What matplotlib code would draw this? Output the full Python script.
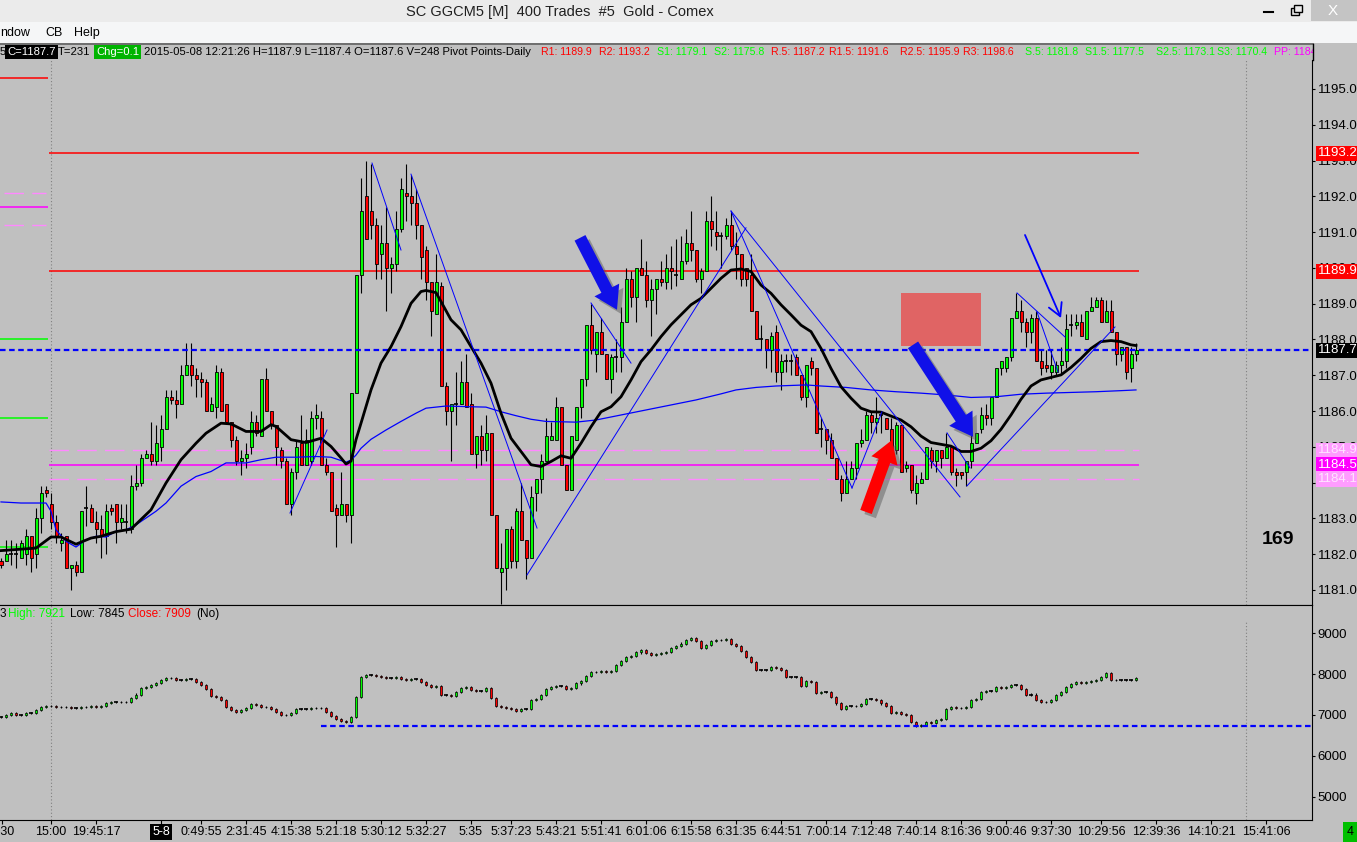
import matplotlib
matplotlib.use("Agg")
import matplotlib.pyplot as plt
import matplotlib.patheffects as pe
from matplotlib.patches import Rectangle
from matplotlib.lines import Line2D
import numpy as np

W, H = 1357, 842
BG = "#c0c0c0"
plt.rcParams["font.family"] = ["Liberation Sans", "DejaVu Sans"]

# ---------------- price candles (400 trade bars) ----------------
candle_open = [
    1181.8, 1181.8, 1182.0, 1182.0, 1181.9, 1182.0, 1182.5, 1182.0, 1183.0, 1183.8,
    1183.4, 1182.9, 1182.3, 1182.5, 1181.6, 1181.7, 1181.5, 1183.3, 1183.3, 1182.9,
    1182.7, 1182.5, 1183.3, 1183.4, 1182.9, 1182.9, 1182.7, 1183.9, 1184.0, 1184.7,
    1184.8, 1184.6, 1185.0, 1185.5, 1186.4, 1186.3, 1186.2, 1187.0, 1187.3, 1187.0,
    1186.9, 1186.8, 1186.0, 1186.1, 1187.1, 1186.2, 1185.7, 1185.2, 1184.6, 1184.7,
    1185.0, 1185.7, 1185.3, 1186.9, 1186.0, 1185.6, 1184.9, 1184.6, 1183.4, 1184.3,
    1185.1, 1184.5, 1184.6, 1185.8, 1185.8, 1184.5, 1184.3, 1183.3, 1183.1, 1183.4,
    1183.1, 1186.5, 1189.8, 1192.0, 1191.6, 1191.2, 1190.4, 1190.7, 1190.0, 1190.1,
    1191.1, 1192.1, 1192.0, 1191.8, 1191.2, 1190.5, 1189.6, 1188.7, 1189.5, 1186.7,
    1186.0, 1186.2, 1186.2, 1186.8, 1186.2, 1184.8, 1185.3, 1184.9, 1185.4, 1183.1,
    1181.5, 1181.6, 1182.7, 1181.8, 1183.2, 1182.4, 1181.9, 1183.7, 1184.1, 1184.6,
    1185.2, 1185.2, 1186.1, 1184.5, 1183.8, 1185.2, 1186.1, 1186.9, 1188.4, 1187.6,
    1188.2, 1187.6, 1186.9, 1187.5, 1187.5, 1188.5, 1189.7, 1189.2, 1190.0, 1189.8,
    1189.1, 1189.4, 1189.7, 1189.6, 1190.0, 1189.8, 1189.7, 1190.2, 1190.7, 1190.5,
    1189.7, 1189.9, 1191.3, 1191.0, 1190.9, 1190.9, 1191.2, 1190.6, 1190.4, 1190.0,
    1189.8, 1188.8, 1188.0, 1188.0, 1187.7, 1188.2, 1187.1, 1187.4, 1187.4, 1187.5,
    1187.0, 1186.4, 1187.4, 1187.2, 1185.5, 1185.5, 1185.2, 1184.7, 1184.1, 1183.7,
    1184.1, 1184.4, 1185.1, 1185.2, 1185.9, 1185.7, 1185.9, 1185.8, 1185.5, 1184.9,
    1185.6, 1184.4, 1184.5, 1183.7, 1184.0, 1184.1, 1184.9, 1184.6, 1184.9, 1184.7,
    1185.0, 1184.3, 1184.3, 1184.3, 1184.6, 1185.1, 1185.5, 1185.9, 1185.8, 1186.4,
    1187.2, 1187.2, 1187.5, 1188.6, 1188.8, 1188.5, 1188.2, 1188.6, 1187.4, 1187.3,
    1187.1, 1187.1, 1187.3, 1187.4, 1188.4, 1188.4, 1188.5, 1188.0, 1188.8, 1188.9,
    1189.1, 1188.5, 1188.8, 1188.2, 1187.6, 1187.8, 1187.2, 1187.6,
]
candle_high = [
    1181.9, 1182.4, 1182.4, 1182.3, 1182.4, 1182.7, 1182.5, 1183.3, 1183.9, 1183.9,
    1183.7, 1183.1, 1182.6, 1182.5, 1181.7, 1181.8, 1183.2, 1183.9, 1183.4, 1183.2,
    1183.1, 1183.4, 1183.4, 1183.4, 1183.4, 1183.4, 1184.2, 1184.5, 1184.8, 1184.9,
    1185.7, 1185.6, 1185.9, 1186.6, 1186.6, 1186.6, 1187.3, 1187.9, 1187.9, 1187.2,
    1187.1, 1186.9, 1186.4, 1187.3, 1187.2, 1186.2, 1185.7, 1185.3, 1184.9, 1185.1,
    1186.0, 1185.9, 1186.9, 1187.2, 1186.0, 1185.6, 1185.0, 1184.7, 1184.4, 1185.2,
    1185.9, 1185.5, 1186.0, 1186.2, 1186.0, 1184.7, 1184.3, 1183.4, 1184.3, 1183.4,
    1186.5, 1189.8, 1192.5, 1193.0, 1192.9, 1191.4, 1191.2, 1191.7, 1190.3, 1191.6,
    1192.5, 1192.9, 1192.6, 1192.2, 1191.2, 1190.6, 1189.6, 1190.4, 1189.6, 1186.8,
    1186.2, 1187.1, 1187.4, 1187.6, 1186.5, 1185.3, 1185.6, 1185.9, 1185.4, 1183.1,
    1182.3, 1182.7, 1182.8, 1183.3, 1184.0, 1182.4, 1183.9, 1184.1, 1184.8, 1185.8,
    1185.7, 1186.4, 1186.1, 1184.5, 1185.3, 1186.1, 1186.9, 1188.4, 1189.0, 1188.2,
    1188.6, 1187.6, 1187.6, 1188.0, 1188.9, 1190.0, 1189.9, 1190.0, 1190.8, 1190.2,
    1189.7, 1189.7, 1190.2, 1190.4, 1190.6, 1190.8, 1190.9, 1191.1, 1191.6, 1190.5,
    1190.0, 1191.6, 1192.0, 1191.6, 1191.0, 1191.4, 1191.6, 1191.0, 1190.4, 1190.0,
    1190.4, 1188.8, 1188.4, 1188.0, 1188.2, 1188.4, 1187.6, 1187.6, 1187.6, 1187.6,
    1187.0, 1187.3, 1187.5, 1187.2, 1185.8, 1185.5, 1185.4, 1184.7, 1184.2, 1184.6,
    1184.6, 1185.1, 1185.5, 1186.0, 1186.0, 1186.4, 1186.0, 1185.8, 1185.8, 1185.7,
    1185.6, 1184.6, 1184.5, 1184.2, 1184.3, 1185.0, 1185.0, 1184.9, 1184.9, 1185.4,
    1185.0, 1184.4, 1184.3, 1184.6, 1185.6, 1185.4, 1186.1, 1186.2, 1186.4, 1187.2,
    1187.4, 1187.5, 1188.6, 1189.3, 1189.1, 1188.6, 1188.7, 1188.8, 1187.7, 1187.7,
    1187.7, 1187.4, 1187.8, 1188.7, 1188.7, 1188.7, 1188.7, 1188.8, 1189.2, 1189.2,
    1189.2, 1189.1, 1189.1, 1188.2, 1187.8, 1187.8, 1187.8, 1187.9,
]
candle_low = [
    1181.6, 1181.8, 1181.7, 1181.6, 1181.9, 1181.7, 1181.5, 1181.6, 1182.6, 1183.6,
    1182.7, 1182.3, 1182.1, 1181.6, 1181.0, 1181.4, 1181.5, 1182.8, 1182.9, 1182.3,
    1181.9, 1182.0, 1183.1, 1182.3, 1182.7, 1182.6, 1182.6, 1183.8, 1183.9, 1184.7,
    1184.5, 1184.5, 1184.6, 1185.5, 1186.2, 1185.8, 1186.2, 1187.0, 1186.7, 1186.4,
    1186.4, 1186.0, 1186.0, 1185.8, 1186.0, 1185.7, 1185.0, 1184.5, 1184.2, 1184.4,
    1184.8, 1185.3, 1185.3, 1186.0, 1185.5, 1184.5, 1184.4, 1183.4, 1183.1, 1184.1,
    1184.5, 1184.5, 1184.5, 1185.5, 1184.5, 1184.2, 1183.2, 1182.2, 1183.1, 1182.9,
    1182.3, 1186.5, 1189.3, 1190.8, 1190.8, 1189.7, 1189.7, 1188.8, 1189.3, 1189.9,
    1191.0, 1191.3, 1191.2, 1190.8, 1189.7, 1189.1, 1188.1, 1188.7, 1186.7, 1185.6,
    1184.6, 1185.6, 1186.2, 1186.1, 1184.8, 1184.4, 1184.5, 1184.6, 1183.1, 1181.6,
    1180.6, 1181.0, 1181.6, 1181.6, 1182.4, 1181.3, 1181.9, 1183.2, 1183.7, 1184.6,
    1185.2, 1185.2, 1184.5, 1183.8, 1183.8, 1185.2, 1185.8, 1186.7, 1187.6, 1187.1,
    1187.6, 1186.9, 1186.5, 1187.1, 1187.1, 1188.5, 1188.9, 1188.5, 1189.8, 1188.9,
    1188.1, 1188.7, 1189.5, 1189.4, 1189.4, 1189.5, 1189.7, 1190.1, 1190.2, 1189.6,
    1189.3, 1189.9, 1190.6, 1190.5, 1190.0, 1190.8, 1190.5, 1189.7, 1189.5, 1189.5,
    1188.8, 1188.0, 1187.7, 1187.2, 1187.1, 1186.8, 1186.6, 1187.1, 1187.0, 1187.0,
    1186.3, 1186.1, 1187.0, 1185.4, 1185.0, 1184.8, 1184.7, 1184.1, 1183.5, 1183.7,
    1184.1, 1184.1, 1185.0, 1185.2, 1185.4, 1185.4, 1185.4, 1185.5, 1184.9, 1184.8,
    1184.3, 1184.3, 1183.7, 1183.4, 1184.0, 1184.1, 1184.4, 1184.3, 1184.4, 1184.7,
    1184.2, 1183.9, 1184.1, 1183.9, 1184.4, 1185.1, 1185.4, 1185.6, 1185.6, 1186.4,
    1187.0, 1187.1, 1187.4, 1188.6, 1188.2, 1187.8, 1187.9, 1187.4, 1187.0, 1187.1,
    1186.9, 1187.0, 1187.0, 1187.2, 1188.1, 1188.3, 1188.1, 1188.0, 1188.8, 1188.9,
    1188.5, 1188.5, 1188.2, 1187.3, 1187.4, 1186.9, 1186.8, 1187.4,
]
candle_close = [
    1181.7, 1182.0, 1182.0, 1182.0, 1182.3, 1182.5, 1181.9, 1183.0, 1183.7, 1183.7,
    1182.9, 1182.5, 1182.4, 1181.6, 1181.7, 1181.5, 1183.2, 1183.3, 1182.9, 1182.7,
    1182.5, 1183.2, 1183.2, 1182.9, 1183.0, 1182.9, 1183.9, 1184.0, 1184.7, 1184.8,
    1184.6, 1185.1, 1185.5, 1186.4, 1186.3, 1186.2, 1187.0, 1187.3, 1187.0, 1186.9,
    1186.8, 1186.0, 1186.2, 1187.1, 1186.0, 1185.7, 1185.2, 1184.6, 1184.7, 1184.8,
    1185.7, 1185.4, 1186.9, 1186.0, 1185.6, 1185.0, 1184.6, 1183.4, 1184.3, 1185.0,
    1184.5, 1185.2, 1185.8, 1185.9, 1184.5, 1184.3, 1183.2, 1183.1, 1183.4, 1183.1,
    1186.5, 1189.8, 1191.6, 1190.8, 1191.2, 1190.1, 1190.7, 1190.0, 1190.1, 1191.1,
    1192.2, 1192.0, 1191.8, 1191.2, 1190.3, 1189.6, 1188.8, 1189.6, 1186.7, 1186.0,
    1186.2, 1186.2, 1186.8, 1186.1, 1184.8, 1185.3, 1184.9, 1185.4, 1183.1, 1181.6,
    1181.6, 1182.7, 1181.8, 1183.2, 1182.4, 1181.9, 1183.6, 1184.1, 1184.6, 1185.3,
    1185.3, 1186.1, 1184.5, 1183.8, 1185.3, 1186.1, 1186.9, 1188.4, 1187.7, 1188.2,
    1187.6, 1186.9, 1187.5, 1187.5, 1188.5, 1189.7, 1189.2, 1190.0, 1189.8, 1189.1,
    1189.4, 1189.7, 1189.6, 1190.0, 1189.9, 1189.8, 1190.2, 1190.7, 1190.5, 1189.7,
    1189.9, 1191.3, 1191.1, 1190.9, 1190.9, 1191.2, 1190.6, 1190.4, 1189.7, 1189.7,
    1188.8, 1188.0, 1188.0, 1187.7, 1188.1, 1187.1, 1187.4, 1187.4, 1187.4, 1187.0,
    1186.4, 1187.3, 1187.2, 1185.4, 1185.5, 1185.2, 1184.7, 1184.1, 1183.7, 1184.1,
    1184.4, 1185.1, 1185.2, 1185.9, 1185.7, 1185.8, 1185.9, 1185.5, 1184.9, 1185.6,
    1184.3, 1184.5, 1183.8, 1184.0, 1184.1, 1185.0, 1184.6, 1184.9, 1184.7, 1185.0,
    1184.3, 1184.2, 1184.2, 1184.6, 1185.1, 1185.4, 1185.9, 1185.8, 1186.4, 1187.2,
    1187.4, 1187.5, 1188.6, 1188.8, 1188.5, 1188.2, 1188.6, 1187.4, 1187.2, 1187.2,
    1187.3, 1187.3, 1187.4, 1188.3, 1188.4, 1188.5, 1188.1, 1188.8, 1188.9, 1189.1,
    1188.5, 1188.8, 1188.2, 1187.6, 1187.8, 1187.1, 1187.6, 1187.7,
]

# moving averages (bar index, value)
fast_ma_idx = [1, 8, 11, 13, 16, 19, 21, 24, 27, 31, 34, 37, 40, 42, 45, 47, 50, 53, 55, 56,
               59, 62, 65, 67, 69, 70, 71, 72, 73, 75, 77, 79, 81, 83, 85, 86, 88, 89, 91, 93,
               95, 97, 99, 101, 103, 105, 107, 109, 111, 113, 115, 117, 119, 121, 123, 125, 127,
               129, 131, 133, 135, 137, 139, 141, 143, 145, 147, 149, 151, 153, 155, 157, 159,
               161, 163, 165, 167, 169, 171, 173, 175, 177, 179, 181, 183, 185, 187, 189, 191,
               193, 195, 197, 199, 201, 203, 205, 207, 209, 211, 213, 215, 217, 219, 221, 223,
               225, 227, 228]
fast_ma_val = [1182.10, 1182.17, 1182.48, 1182.48, 1182.28, 1182.45, 1182.50, 1182.63, 1182.70,
               1183.24, 1183.99, 1184.64, 1185.10, 1185.38, 1185.66, 1185.64, 1185.43, 1185.43,
               1185.62, 1185.57, 1185.20, 1185.12, 1185.24, 1185.01, 1184.69, 1184.52, 1184.60,
               1185.20, 1185.66, 1186.59, 1187.34, 1187.80, 1188.36, 1189.01, 1189.34, 1189.37,
               1189.31, 1189.06, 1188.55, 1188.27, 1187.80, 1187.34, 1186.78, 1185.94, 1185.24,
               1184.87, 1184.50, 1184.45, 1184.59, 1184.75, 1184.68, 1185.10, 1185.56, 1185.98,
               1186.12, 1186.40, 1186.87, 1187.38, 1187.71, 1188.08, 1188.41, 1188.69, 1188.97,
               1189.15, 1189.43, 1189.71, 1189.94, 1189.97, 1189.90, 1189.52, 1189.29, 1188.97,
               1188.69, 1188.40, 1188.22, 1187.75, 1187.19, 1186.68, 1186.36, 1186.08, 1185.98,
               1185.97, 1185.86, 1185.75, 1185.56, 1185.30, 1185.12, 1185.07, 1185.02, 1184.87,
               1184.87, 1184.96, 1185.17, 1185.49, 1185.89, 1186.33, 1186.70, 1186.87, 1186.94,
               1187.01, 1187.22, 1187.47, 1187.75, 1187.94, 1187.97, 1187.94, 1187.85, 1187.83]
slow_ma_idx = [1, 5, 10, 11, 12, 14, 16, 18, 20, 22, 24, 26, 28, 30, 32, 34, 37, 40, 43, 46,
               50, 53, 56, 60, 64, 67, 70, 71, 72, 73, 75, 78, 81, 84, 86, 90, 95, 98, 101, 104,
               107, 110, 116, 120, 125, 130, 135, 140, 145, 148, 152, 156, 162, 165, 170, 175,
               180, 185, 190, 195, 200, 205, 210, 215, 220, 225, 228]
slow_ma_val = [1183.46, 1183.43, 1183.43, 1183.20, 1182.68, 1182.36, 1182.20, 1182.40, 1182.50,
               1182.48, 1182.64, 1182.68, 1182.82, 1183.01, 1183.20, 1183.43, 1183.90, 1184.17,
               1184.31, 1184.55, 1184.55, 1184.64, 1184.71, 1184.71, 1184.73, 1184.71, 1184.57,
               1184.63, 1184.77, 1184.96, 1185.21, 1185.47, 1185.71, 1185.94, 1186.08, 1186.14,
               1186.12, 1186.11, 1185.98, 1185.87, 1185.77, 1185.71, 1185.69, 1185.75, 1185.89,
               1186.03, 1186.17, 1186.31, 1186.48, 1186.59, 1186.66, 1186.70, 1186.73, 1186.70,
               1186.66, 1186.59, 1186.54, 1186.50, 1186.45, 1186.38, 1186.40, 1186.47, 1186.50,
               1186.52, 1186.54, 1186.57, 1186.59]

# daily pivots (today) and yesterday's leftovers
pivot_r = [1193.2, 1189.9]
pivot_pp = 1184.5
pivot_mid = [1184.9, 1184.1]
old_r = [1195.3]
old_pp = 1191.7
old_mid = [1192.1, 1191.2]
old_s = [1188.0, 1185.8, 1182.2]
last_price = 1187.7

# hand-drawn trend lines: (bar, price) -> (bar, price)
trend_lines = [
    ((58.8, 1183.15), (66.2, 1185.47)),
    ((75.2, 1192.93), (81.0, 1190.50)),
    ((83.0, 1192.62), (108.2, 1182.73)),
    ((106.2, 1181.42), (150.0, 1191.12)),
    ((119.0, 1189.02), (127.0, 1187.34)),
    ((147.0, 1191.59), (192.8, 1183.60)),
    ((147.0, 1191.59), (171.2, 1183.85)),
    ((171.2, 1183.85), (177.2, 1185.98)),
    ((190.2, 1185.39), (194.8, 1184.41)),
    ((194.2, 1183.91), (223.8, 1188.35)),
    ((204.2, 1189.30), (213.8, 1188.07)),
    ((208.2, 1188.77), (212.4, 1187.09)),
]

# lower study (close per bar)
lower_close = [
    6960, 7000, 7040, 7000, 7000, 7040, 7040, 7120, 7190, 7220,
    7230, 7200, 7190, 7200, 7160, 7160, 7190, 7200, 7220, 7200,
    7220, 7300, 7320, 7320, 7310, 7320, 7410, 7500, 7650, 7680,
    7730, 7790, 7860, 7910, 7900, 7860, 7860, 7880, 7880, 7810,
    7730, 7630, 7470, 7450, 7370, 7190, 7120, 7080, 7120, 7160,
    7260, 7240, 7200, 7190, 7140, 7080, 7000, 6990, 7040, 7140,
    7140, 7140, 7160, 7180, 7160, 7080, 6980, 6890, 6860, 6830,
    6960, 7430, 7920, 7980, 7980, 7960, 7940, 7900, 7900, 7920,
    7870, 7860, 7880, 7880, 7810, 7730, 7690, 7710, 7480, 7480,
    7460, 7550, 7650, 7690, 7610, 7590, 7590, 7650, 7410, 7220,
    7190, 7160, 7140, 7100, 7140, 7140, 7370, 7390, 7490, 7630,
    7690, 7710, 7710, 7640, 7650, 7770, 7830, 7950, 8040, 8060,
    8080, 8060, 8080, 8220, 8330, 8410, 8440, 8530, 8590, 8510,
    8480, 8490, 8510, 8550, 8650, 8690, 8750, 8830, 8880, 8800,
    8630, 8710, 8820, 8830, 8840, 8860, 8730, 8690, 8570, 8410,
    8300, 8100, 8100, 8100, 8180, 8140, 8100, 7920, 7920, 7920,
    7720, 7830, 7810, 7530, 7550, 7550, 7450, 7280, 7140, 7220,
    7220, 7230, 7260, 7390, 7390, 7370, 7280, 7220, 7040, 7080,
    7020, 7000, 6830, 6730, 6750, 6830, 6790, 6880, 6900, 7140,
    7190, 7160, 7170, 7200, 7370, 7390, 7550, 7590, 7590, 7680,
    7650, 7680, 7730, 7730, 7630, 7500, 7500, 7370, 7310, 7320,
    7370, 7490, 7550, 7680, 7760, 7810, 7790, 7810, 7840, 7860,
    7920, 8030, 7860, 7850, 7850, 7850, 7850, 7909,
]
lower_support = 6740
lower_support_from = 65

time_tick_pos = [1.2, 11, 20, 33, 41, 50, 59, 68, 77, 86, 95, 103, 112, 121, 130, 139, 148,
                 157, 166, 175, 184, 193, 202, 211, 221, 232, 243, 254]
time_tick_lab = ["2:30", "15:00", "19:45:17", "5-8", "0:49:55", "2:31:45", "4:15:38",
                 "5:21:18", "5:30:12", "5:32:27", "5:35", "5:37:23", "5:43:21", "5:51:41",
                 "6:01:06", "6:15:58", "6:31:35", "6:44:51", "7:00:14", "7:12:48", "7:40:14",
                 "8:16:36", "9:00:46", "9:37:30", "10:29:56", "12:39:36", "14:10:21", "15:41:06"]


def fx(px):
    return px / W


def fy(py):
    return 1 - py / H


def draw_candles(ax, o, h, l, c, width, edge_lw):
    o, h, l, c = map(np.asarray, (o, h, l, c))
    idx = np.arange(1, len(o) + 1)
    ax.vlines(idx, l, h, color="black", lw=0.8, zorder=3)
    up = c > o
    dn = c < o
    flat = c == o
    ax.bar(idx[up], (c - o)[up], width, bottom=o[up], color="#00ff00",
           edgecolor="black", lw=edge_lw, zorder=4)
    ax.bar(idx[dn], (o - c)[dn], width, bottom=c[dn], color="#ff0000",
           edgecolor="black", lw=edge_lw, zorder=4)
    ax.hlines(c[flat], idx[flat] - width / 2 - 0.1, idx[flat] + width / 2 + 0.1,
              color="black", lw=1.2, zorder=4)


fig = plt.figure(figsize=(W / 100, H / 100), dpi=100)
fig.patch.set_facecolor(BG)

# ---------------- main price panel ----------------
ax = fig.add_axes([0, fy(605), fx(1312), (605 - 60) / H])
ax.set_facecolor(BG)
ax.set_xlim(0.8, 263.2)
ax.set_ylim(1180.58, 1195.81)

for side in ["top", "left"]:
    ax.spines[side].set_visible(False)
ax.spines["right"].set_color("black")
ax.spines["bottom"].set_color("black")
ax.yaxis.tick_right()
ax.set_yticks(np.arange(1181, 1196, 1.0))
ax.set_yticklabels([f"{v:.1f}" for v in np.arange(1181, 1196, 1.0)])
ax.tick_params(axis="y", direction="out", length=2.5, pad=1.5, labelsize=9.5, colors="black")
ax.set_xticks([])

# pivot lines
x_new = (10.6, 228.6)
x_old = (0.8, 10.4)
for v in pivot_r:
    ax.hlines(v, *x_new, color="#ff0000", lw=1.1, zorder=2)
ax.hlines(pivot_pp, *x_new, color="#ff00ff", lw=1.1, zorder=2)
for v in pivot_mid:
    ax.hlines(v, *x_new, color="#ff88ff", lw=1.0, linestyles=(0, (14, 6)), zorder=2)
for v in old_r:
    ax.hlines(v, *x_old, color="#ff0000", lw=1.1, zorder=2)
ax.hlines(old_pp, *x_old, color="#ff00ff", lw=1.1, zorder=2)
for v in old_mid:
    ax.hlines(v, 1.6, 10.0, color="#ff88ff", lw=1.0, linestyles=(0, (14, 6)), zorder=2)
for v in old_s:
    ax.hlines(v, *x_old, color="#00ff00", lw=1.1, zorder=2)

ax.axvline(11, color="#808080", lw=0.8, ls=(0, (1, 2)), zorder=1)
ax.axvline(250, color="#808080", lw=0.8, ls=(0, (1, 2)), zorder=1)

draw_candles(ax, candle_open, candle_high, candle_low, candle_close, 0.6, 0.6)

ax.axhline(last_price, color="#0000ff", lw=1.6, ls=(0, (2.5, 1.6)), zorder=4.5)

ax.plot(slow_ma_idx, slow_ma_val, color="#0000ff", lw=0.9, zorder=5)
ax.plot(fast_ma_idx, fast_ma_val, color="black", lw=2.0, zorder=5)

for (x0, y0), (x1, y1) in trend_lines:
    ax.plot([x0, x1], [y0, y1], color="#0000ff", lw=0.7, zorder=5)

# annotations
ax.add_patch(Rectangle((181.0, 1187.83), 16.0, 1.48, facecolor="#e06464",
                       edgecolor="none", zorder=6))


def big_arrow(tail, tip, color):
    ann = ax.annotate("", xy=tip, xytext=tail, zorder=7,
                      arrowprops=dict(arrowstyle="simple,head_length=1.0,head_width=1.25,tail_width=0.55",
                                      fc=color, ec="none", mutation_scale=16,
                                      shrinkA=0, shrinkB=0))
    ann.arrow_patch.set_path_effects([
        pe.SimplePatchShadow(offset=(3, -3), shadow_rgbFace="#555555", alpha=0.45),
        pe.Normal()])


big_arrow((116.8, 1190.84), (124.2, 1188.83), "#1010e8")
big_arrow((183.4, 1187.85), (195.4, 1185.28), "#1010e8")
big_arrow((174.0, 1183.18), (179.2, 1185.19), "#ff0000")
ax.annotate("", xy=(213.0, 1188.60), xytext=(205.8, 1190.92), zorder=7,
            arrowprops=dict(arrowstyle="->,head_length=0.45,head_width=0.25",
                            color="#0000ff", lw=1.3, mutation_scale=20,
                            shrinkA=0, shrinkB=0))

# right-axis value flags
flags = [
    (1193.2, "#ff0000", "white"),
    (1189.9, "#ff0000", "white"),
    (1187.7, "black", "white"),
    (1184.9, "#ff9cff", "#ffe4ff"),
    (1184.5, "#ff00ff", "white"),
    (1184.1, "#ff9cff", "#ffe4ff"),
]
tr = ax.get_yaxis_transform()
for v, fc, tc in flags:
    ax.text(1.0045, v, f"{v:.1f}", transform=tr, ha="left", va="center", fontsize=9.5,
            color=tc, clip_on=False, zorder=8,
            bbox=dict(boxstyle="square,pad=0.12", fc=fc, ec="none"))

fig.text(fx(1278), fy(539), "169", ha="center", va="center", fontsize=14,
         fontweight="bold", color="black")

# ---------------- lower study panel ----------------
ax2 = fig.add_axes([0, fy(820), fx(1312), (820 - 605) / H])
ax2.set_facecolor(BG)
ax2.set_xlim(0.8, 263.2)
ax2.set_ylim(4424, 9694)
ax2.spines["left"].set_visible(False)
for side in ["right", "top", "bottom"]:
    ax2.spines[side].set_color("black")
ax2.yaxis.tick_right()
ax2.set_yticks([5000, 6000, 7000, 8000, 9000])
ax2.tick_params(axis="y", direction="out", length=2.5, pad=1.5, labelsize=9.5)
ax2.set_xticks(time_tick_pos)
ax2.set_xticklabels(time_tick_lab)
ax2.tick_params(axis="x", direction="out", length=3, pad=1.5, labelsize=9)
for lab in ax2.get_xticklabels():
    if lab.get_text() == "5-8":
        lab.set_color("white")
        lab.set_bbox(dict(boxstyle="square,pad=0.15", fc="black", ec="none"))

ax2.axvline(11, color="#808080", lw=0.8, ls=(0, (1, 2)), zorder=1)
ax2.axvline(250, ymax=0.92, color="#808080", lw=0.8, ls=(0, (1, 2)), zorder=1)

lc = np.asarray(lower_close, dtype=float)
lo = np.r_[lc[0], lc[:-1]]
draw_candles(ax2, lo, np.maximum(lo, lc) + 25, np.minimum(lo, lc) - 25, lc, 0.55, 0.5)
ax2.hlines(lower_support, lower_support_from, 263.2, color="#0000ff", lw=1.6,
           linestyles=(0, (2.5, 1.6)), zorder=4.5)

hdr_y = fy(614)
fig.text(fx(0), hdr_y, "3", fontsize=8.5, va="center", color="black")
fig.text(fx(8), hdr_y, "High: 7921", fontsize=8.5, va="center", color="#00ff00")
fig.text(fx(70), hdr_y, "Low: 7845", fontsize=8.5, va="center", color="black")
fig.text(fx(128), hdr_y, "Close: 7909", fontsize=8.5, va="center", color="#ff0000")
fig.text(fx(196), hdr_y, "(No)", fontsize=8.5, va="center", color="black")

# ---------------- window chrome ----------------
fig.add_artist(Rectangle((0, fy(22)), 1, 22 / H, transform=fig.transFigure,
                         fc="#ebebeb", ec="none", zorder=1))
fig.add_artist(Rectangle((0, fy(43)), 1, 21 / H, transform=fig.transFigure,
                         fc="#f5f6f7", ec="none", zorder=1))
fig.add_artist(Line2D([0, fx(1313)], [fy(44), fy(44)], transform=fig.transFigure,
                      color="#606060", lw=1.2, zorder=2))
fig.add_artist(Line2D([fx(1313), fx(1313)], [fy(44), fy(60)], transform=fig.transFigure,
                      color="black", lw=1.0, zorder=6))
fig.text(fx(406), fy(12), "SC GGCM5 [M]  400 Trades  #5  Gold - Comex", fontsize=10.5,
         va="center", color="#202020")
fig.text(fx(0), fy(33), "ndow", fontsize=9, va="center", color="black")
fig.text(fx(45), fy(33), "CB", fontsize=9, va="center", color="black")
fig.text(fx(74), fy(33), "Help", fontsize=9, va="center", color="black")

# minimise / restore / close
fig.add_artist(Line2D([fx(1264), fx(1273)], [fy(12), fy(12)], transform=fig.transFigure,
                      color="black", lw=1.5, zorder=2))
fig.add_artist(Rectangle((fx(1291), fy(15)), 8 / W, 7 / H, transform=fig.transFigure,
                         fc="none", ec="black", lw=1.0, zorder=2))
fig.add_artist(Rectangle((fx(1294), fy(12)), 8 / W, 7 / H, transform=fig.transFigure,
                         fc="#ebebeb", ec="black", lw=1.0, zorder=2))
fig.add_artist(Rectangle((fx(1311), fy(21)), 46 / W, 21 / H, transform=fig.transFigure,
                         fc="#c4c4c4", ec="none", zorder=2))
fig.text(fx(1333), fy(11), "X", fontsize=11, ha="center", va="center", color="white")

# info line
info_y = fy(52)
info_fs = 8.1
item_fs = 7.6
fig.text(fx(0), info_y, "5", fontsize=info_fs, va="center", color="black")
fig.text(fx(7), info_y, "C=1187.7", fontsize=info_fs, va="center", color="white",
         bbox=dict(boxstyle="square,pad=0.18", fc="black", ec="none"))
fig.text(fx(58), info_y, "T=231", fontsize=info_fs, va="center", color="black")
fig.text(fx(96), info_y, "Chg=0.1", fontsize=info_fs, va="center", color="white",
         bbox=dict(boxstyle="square,pad=0.18", fc="#00b400", ec="none"))
fig.text(fx(144), info_y,
         "2015-05-08 12:21:26 H=1187.9 L=1187.4 O=1187.6 V=248 Pivot Points-Daily",
         fontsize=info_fs, va="center", color="black")
info_items = [
    (541, "R1: 1189.9", "#ff0000"), (599, "R2: 1193.2", "#ff0000"),
    (657, "S1: 1179.1", "#00ff00"), (714, "S2: 1175.8", "#00ff00"),
    (771, "R.5: 1187.2", "#ff0000"), (829, "R1.5: 1191.6", "#ff0000"),
    (900, "R2.5: 1195.9", "#ff0000"), (963, "R3: 1198.6", "#ff0000"),
    (1025, "S.5: 1181.8", "#00ff00"), (1085, "S1.5: 1177.5", "#00ff00"),
    (1156, "S2.5: 1173.1", "#00ff00"), (1217, "S3: 1170.4", "#00ff00"),
    (1274, "PP: 1184.5", "#ff00ff"),
]
for px, s, col in info_items:
    fig.text(fx(px), info_y, s, fontsize=item_fs, va="center", color=col, zorder=3)
fig.add_artist(Rectangle((fx(1314), fy(60)), 43 / W, 16 / H, transform=fig.transFigure,
                         fc=BG, ec="none", zorder=5))

# bottom-right status box
fig.add_artist(Rectangle((fx(1343), 0), 14 / W, 20 / H, transform=fig.transFigure,
                         fc="#00c000", ec="none", zorder=2))
fig.text(fx(1350), fy(832), "4", fontsize=9, ha="center", va="center", color="black", zorder=3)

fig.savefig("out.png", dpi=100, facecolor=fig.get_facecolor())
